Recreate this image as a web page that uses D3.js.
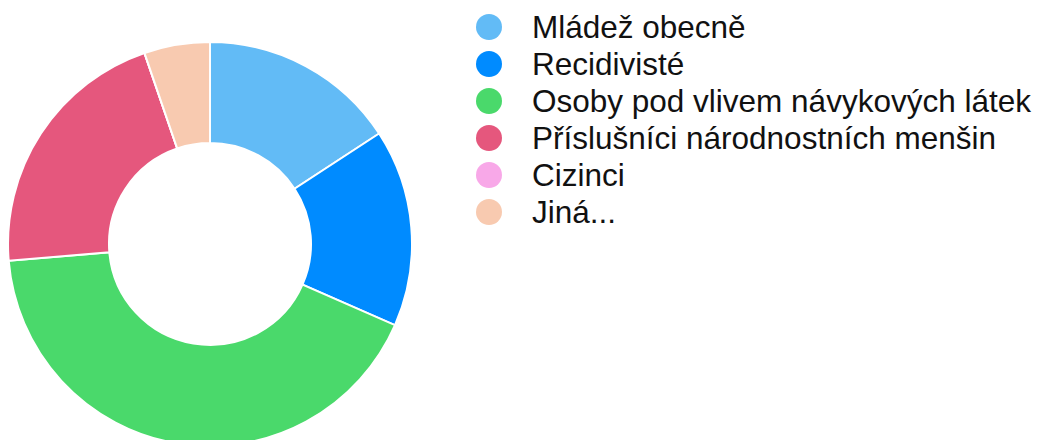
<!DOCTYPE html>
<html lang="cs">
<head>
  <meta charset="UTF-8">
  <title>Donut Chart</title>
  <script src="https://d3js.org/d3.v7.min.js"></script>
  <style>
    body { margin: 0; background: #fff; }
    .legend text { font-family: "Liberation Sans", Arial, sans-serif; }
  </style>
</head>
<body>
  <script>
    // Categories and values
    const categories = ["Mládež obecně", "Recidivisté", "Osoby pod vlivem návykových látek",
                        "Příslušníci národnostních menšin", "Cizinci", "Jiná..."];
    const values = [3, 3, 8, 4, 0, 1];
    const colors = ["#62BBF6", "#008BFF", "#4AD96B", "#E5577D", "#F8A8E8", "#F8CAB0"];

    const width = 1043, height = 440;
    const cx = 210, cy = 244, outerR = 202, innerR = 101;

    const svg = d3.select("body")
                  .append("svg")
                  .attr("width", width)
                  .attr("height", height);

    const pie = d3.pie().sort(null).value(d => d);
    const arc = d3.arc().innerRadius(innerR).outerRadius(outerR);

    const g = svg.append("g")
                 .attr("transform", `translate(${cx},${cy})`);

    g.selectAll("path")
     .data(pie(values))
     .enter()
     .append("path")
     .attr("d", arc)
     .attr("fill", (d, i) => colors[i])
     .attr("stroke", "#fff")
     .attr("stroke-width", 2);

    // Legend
    const legend = svg.append("g")
                      .attr("class", "legend")
                      .selectAll("g")
                      .data(categories)
                      .enter()
                      .append("g")
                      .attr("transform", (d, i) => `translate(489, ${27 + i * 37})`);

    legend.append("circle")
          .attr("r", 13)
          .attr("fill", (d, i) => colors[i]);

    legend.append("text")
          .attr("x", 43)
          .attr("y", 0)
          .attr("dy", "0.36em")
          .attr("font-size", "31.5px")
          .attr("fill", "#111")
          .text(d => d);
  </script>
</body>
</html>
